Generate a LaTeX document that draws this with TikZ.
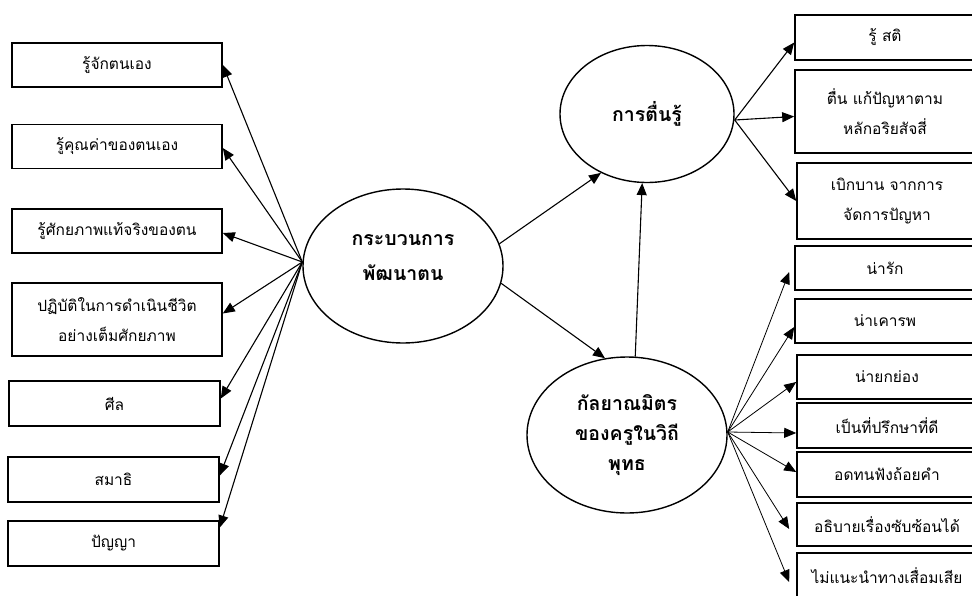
\documentclass[tikz,border=0pt]{standalone}
\usepackage{fontspec}
\newfontfamily\thaifont[Script=Thai]{Loma}
\usepackage{tikz}
\usetikzlibrary{arrows.meta,positioning,shapes.geometric,calc}
\tikzset{
  itembox/.style={
    rectangle, draw=black, line width=1.6pt,
    minimum width=#1, minimum height=44pt,
    font=\thaifont\fontsize{15.5}{30}\selectfont, align=center,
    inner sep=3pt
  },
  itembox/.default=210pt,
  ovalnode/.style={
    ellipse, draw=black, line width=1.4pt,
    font=\thaifont\bfseries\fontsize{19.5}{#1}\selectfont, align=center,
    inner sep=0pt
  },
  ovalnode/.default=35,
  linkarrow/.style={
    -{Triangle[length=12pt,width=10pt]}, line width=#1
  },
  linkarrow/.default=1.1pt,
}

\begin{document}
\begin{tikzpicture}[x=1pt, y=-1pt]
\useasboundingbox (0,0) rectangle (972,595);
\node[ovalnode, minimum width=200pt, minimum height=154pt] (dev) at (403,266) {กระบวนการ\\พัฒนาตน\\[-19pt]\mbox{}};
\node[ovalnode, minimum width=174pt, minimum height=137pt] (awake) at (647,114) {การตื่นรู้};
\node[ovalnode=30, minimum width=200pt, minimum height=156pt] (friend) at (627,435) {กัลยาณมิตร\\ของครูในวิถี\\พุทธ};
\node[itembox] (k1) at (117,65) {รู้จักตนเอง};
\node[itembox] (k2) at (117,146.5) {รู้คุณค่าของตนเอง};
\node[itembox] (k3) at (117,231) {รู้ศักยภาพแท้จริงของตน};
\node[itembox, minimum height=73pt] (k4) at (117,319.5) {ปฏิบัติในการดำเนินชีวิต\\อย่างเต็มศักยภาพ};
\node[itembox=211pt, minimum height=45pt] (k5) at (114.5,403.5) {ศีล};
\node[itembox=211pt, minimum height=45pt] (k6) at (113.5,479.5) {สมาธิ};
\node[itembox=211pt, minimum height=45pt] (k7) at (113.5,543.5) {ปัญญา};
\node[itembox=180pt, minimum height=45pt] (a1) at (885,37.5) {รู้ สติ};
\node[itembox=180pt, minimum height=83pt] (a2) at (885,111.5) {ตื่น แก้ปัญหาตาม\\หลักอริยสัจสี่};
\node[itembox=180pt, minimum height=76pt] (a3) at (887,201) {เบิกบาน จากการ\\จัดการปัญหา};
\node[itembox=180pt] (f1) at (885,268) {น่ารัก};
\node[itembox=180pt] (f2) at (885,321) {น่าเคารพ};
\node[itembox=180pt] (f3) at (887,377) {น่ายกย่อง};
\node[itembox=180pt, minimum height=45pt] (f4) at (887,425.5) {เป็นที่ปรึกษาที่ดี};
\node[itembox=180pt, minimum height=45pt] (f5) at (887,474.5) {อดทนฟังถ้อยคำ};
\node[itembox=180pt, minimum height=43pt] (f6) at (887,524.5) {อธิบายเรื่องซับซ้อนได้};
\node[itembox=180pt, minimum height=45pt] (f7) at (887,575.5) {ไม่แนะนำทางเสื่อมเสีย};
\coordinate (devw) at ([yshift=4pt]dev.west);
\draw[linkarrow] (devw) -- (k1.east);
\draw[linkarrow] (devw) -- ([yshift=-1.5pt]k2.east);
\draw[linkarrow] (devw) -- ([yshift=-2pt]k3.east);
\draw[linkarrow] (devw) -- ([yshift=6pt]k4.east);
\draw[linkarrow] (devw) -- ([yshift=5pt]k5.east);
\draw[linkarrow] (devw) -- ([yshift=4pt]k6.east);
\draw[linkarrow] (devw) -- ([yshift=16pt]k7.east);
\draw[linkarrow] (dev.13) -- (awake.232);
\draw[linkarrow] (dev.-10) -- (friend.106);
\draw[linkarrow] (friend.84) -- (awake.266);
\coordinate (awakee) at ([yshift=-6pt]awake.east);
\draw[linkarrow] (awakee) -- ([yshift=-5pt]a1.west);
\draw[linkarrow] (awakee) -- ([yshift=-5pt]a2.west);
\draw[linkarrow] (awakee) -- (a3.west);
\coordinate (friende) at ([yshift=3pt]friend.east);
\draw[linkarrow=0.8pt] (friende) -- ([xshift=-5pt,yshift=-4pt]f1.west);
\draw[linkarrow=0.8pt] (friende) -- ([yshift=-6pt]f2.west);
\draw[linkarrow=0.8pt] (friende) -- ([yshift=-5pt]f3.west);
\draw[linkarrow=0.8pt] (friende) -- ([yshift=-7.5pt]f4.west);
\draw[linkarrow=0.8pt] (friende) -- ([yshift=2.5pt]f5.west);
\draw[linkarrow=0.8pt] (friende) -- ([xshift=-7pt,yshift=-4.5pt]f6.west);
\draw[linkarrow=0.8pt] (friende) -- ([xshift=-7pt,yshift=-6.5pt]f7.west);
\end{tikzpicture}
\end{document}
